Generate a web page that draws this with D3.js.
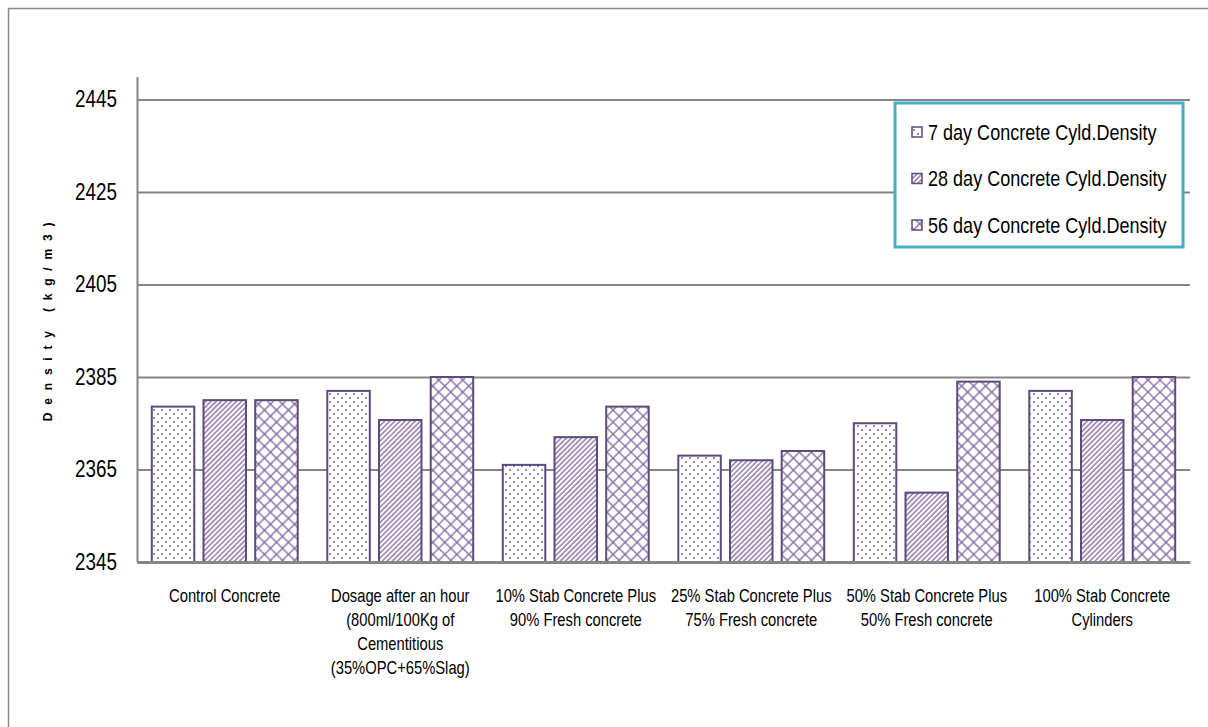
<!DOCTYPE html>
<html>
<head>
<meta charset="utf-8">
<script src="https://cdn.jsdelivr.net/npm/d3@7"></script>
<style>
  body { margin: 0; background: #fff; }
  svg { display: block; }
  text { font-family: "Liberation Sans", Arial, sans-serif; fill: #000; }
</style>
</head>
<body>
<div id="chart"></div>
<script>
// categories (x labels, one array of lines per group)
const categories = [
  ["Control Concrete"],
  ["Dosage after an hour", "(800ml/100Kg of", "Cementitious", "(35%OPC+65%Slag)"],
  ["10% Stab Concrete Plus", "90% Fresh concrete"],
  ["25% Stab Concrete Plus", "75% Fresh concrete"],
  ["50% Stab Concrete Plus", "50% Fresh concrete"],
  ["100% Stab Concrete", "Cylinders"]
];
const seriesNames = ["7 day Concrete Cyld.Density", "28 day Concrete Cyld.Density", "56 day Concrete Cyld.Density"];
const day7  = [2378.6, 2382.0, 2366.0, 2368.0, 2375.0, 2382.0];
const day28 = [2380.0, 2375.7, 2372.0, 2367.0, 2360.0, 2375.7];
const day56 = [2380.0, 2385.0, 2378.6, 2369.0, 2384.0, 2385.0];
const yTicks = [2345, 2365, 2385, 2405, 2425, 2445];
const yMin = 2345, yMax = 2450;

const W = 1208, H = 727;
const plot = {left: 137, right: 1190, top: 76.4, bottom: 562};
const purple = "#5f4a7c";
const hatch = "#8064a2";
const squeeze = 0.82; // narrow look (no condensed font installed)

const svg = d3.select("#chart").append("svg").attr("width", W).attr("height", H);

// patterns
const defs = svg.append("defs");
const pDots = defs.append("pattern").attr("id", "p0").attr("patternUnits", "userSpaceOnUse")
  .attr("width", 8).attr("height", 8);
pDots.append("rect").attr("width", 8).attr("height", 8).attr("fill", "#fff");
[[2, 2], [6, 6]].forEach(function(d){
  pDots.append("circle").attr("cx", d[0]).attr("cy", d[1]).attr("r", 1).attr("fill", hatch);
});
const pDiag = defs.append("pattern").attr("id", "p1").attr("patternUnits", "userSpaceOnUse")
  .attr("width", 3.6).attr("height", 3.6).attr("patternTransform", "rotate(45)");
pDiag.append("rect").attr("width", 3.6).attr("height", 3.6).attr("fill", "#fff");
pDiag.append("line").attr("x1", 1).attr("y1", 0).attr("x2", 1).attr("y2", 3.6)
  .attr("stroke", hatch).attr("stroke-width", 1.3);
const pCross = defs.append("pattern").attr("id", "p2").attr("patternUnits", "userSpaceOnUse")
  .attr("width", 8.5).attr("height", 8.5).attr("patternTransform", "rotate(45)");
pCross.append("rect").attr("width", 8.5).attr("height", 8.5).attr("fill", "#fff");
pCross.append("line").attr("x1", 1).attr("y1", 0).attr("x2", 1).attr("y2", 8.5)
  .attr("stroke", hatch).attr("stroke-width", 1.3);
pCross.append("line").attr("x1", 0).attr("y1", 1).attr("x2", 8.5).attr("y2", 1)
  .attr("stroke", hatch).attr("stroke-width", 1.3);

// outer border
svg.append("rect").attr("x", 8.5).attr("y", 8.5).attr("width", W).attr("height", H)
  .attr("fill", "none").attr("stroke", "#8a8a8a").attr("stroke-width", 1.5);

// scales
const x = d3.scaleBand().domain(d3.range(categories.length)).range([plot.left, plot.right]);
const xs = d3.scaleBand().domain(d3.range(seriesNames.length)).range([0, x.bandwidth()])
  .paddingInner(0.178).paddingOuter(0.286);
const y = d3.scaleLinear().domain([yMin, yMax]).range([plot.bottom, plot.top]);

// gridlines + y axis
const yAxis = svg.append("g").attr("transform", "translate(" + plot.left + ",0)")
  .call(d3.axisLeft(y).tickValues(yTicks).tickFormat(d3.format("d"))
    .tickSize(-(plot.right - plot.left)).tickSizeOuter(0).tickPadding(0));
yAxis.select(".domain").attr("stroke", "#868686").attr("stroke-width", 2);
yAxis.selectAll(".tick line").attr("stroke", "#868686").attr("stroke-width", 2);
yAxis.selectAll(".tick text").attr("x", null)
  .attr("transform", "translate(-20,0) scale(" + squeeze + ",1)")
  .style("font-size", "23px").attr("fill", "#000");

// bars
const series = [day7, day28, day56];
series.forEach(function(vals, si){
  svg.append("g").selectAll("rect").data(vals).enter().append("rect")
    .attr("x", function(d, i){ return x(i) + xs(si); })
    .attr("y", function(d){ return y(d); })
    .attr("width", xs.bandwidth())
    .attr("height", function(d){ return y(yMin) - y(d); })
    .attr("fill", "url(#p" + si + ")")
    .attr("stroke", purple).attr("stroke-width", 2);
});

// x axis
const xAxis = svg.append("g").attr("transform", "translate(0," + plot.bottom + ")")
  .call(d3.axisBottom(x).tickSize(0).tickFormat(""));
xAxis.select(".domain").attr("stroke", "#868686").attr("stroke-width", 3);
xAxis.selectAll(".tick").each(function(d){
  const t = d3.select(this).append("text").attr("text-anchor", "middle")
    .attr("transform", "scale(" + squeeze + ",1)")
    .style("font-size", "18px").attr("fill", "#000");
  categories[d].forEach(function(line, li){
    t.append("tspan").attr("x", 0).attr("y", 40 + li * 24).text(line);
  });
});

// y title
svg.append("text")
  .attr("transform", "translate(52," + 318 + ") rotate(-90)")
  .attr("text-anchor", "middle")
  .style("font-size", "12px").style("font-weight", "bold").style("letter-spacing", "7.8px")
  .text("Density (kg/m3)");

// legend
const lg = svg.append("g");
lg.append("rect").attr("x", 895).attr("y", 103).attr("width", 288).attr("height", 144)
  .attr("fill", "#fff").attr("stroke", "#4bacc6").attr("stroke-width", 3);
seriesNames.forEach(function(name, i){
  const cy = 132 + i * 46.5;
  lg.append("rect").attr("x", 912).attr("y", cy - 5).attr("width", 10).attr("height", 10)
    .attr("fill", "url(#p" + i + ")").attr("stroke", purple).attr("stroke-width", 1.5);
  lg.append("text").attr("transform", "translate(928," + cy + ") scale(" + squeeze + ",1)")
    .attr("dy", "0.35em").style("font-size", "22px").text(name);
});
</script>
</body>
</html>
